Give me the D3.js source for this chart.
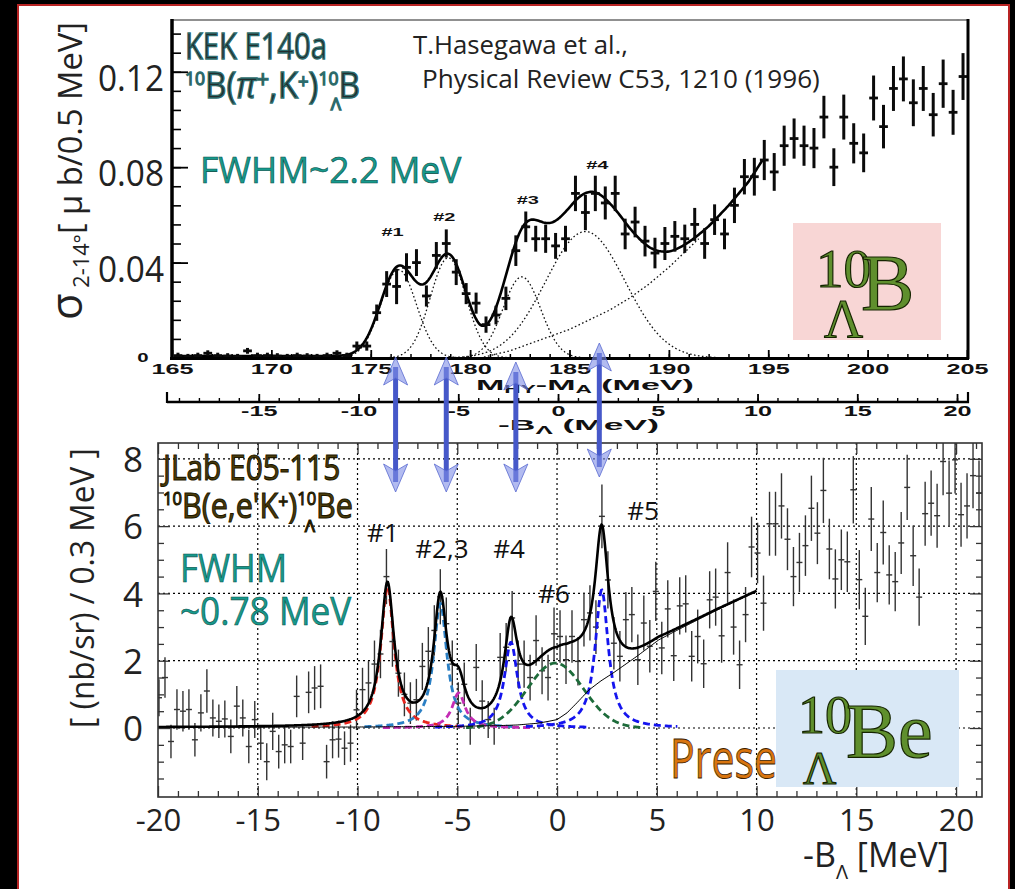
<!DOCTYPE html>
<html>
<head>
<meta charset="utf-8">
<script src="https://cdn.jsdelivr.net/npm/d3@7"></script>
<style>
  html, body { margin: 0; padding: 0; background: #000; }
  svg { display: block; }
</style>
</head>
<body>
<svg width="1015" height="889"></svg>
<script>
(function (d3) {
  'use strict';

  // ---- top panel: KEK E140a, 0.5 MeV bins starting at 165.3 MeV
  const topStart = 165.3, topStep = 0.5;
  const topVals = [
    0.001,0.0005,0.001,0.002,0.001,0.0008,0.0005,0.003,0.001,0.001,0.0008,0.0005,0.001,0.0008,0.0005,0.001,0.002,0.001,
    0.005,0.005,0.019,0.031,0.030,0.038,0.040,0.026,0.043,0.048,0.036,0.027,0.023,0.014,0.018,0.025,0.045,0.055,0.050,
    0.050,0.047,0.050,0.069,0.061,0.069,0.065,0.069,0.052,0.057,0.049,0.044,0.048,0.051,
    0.050,0.056,0.048,0.058,0.052,0.064,0.076,0.076,0.083,0.078,0.089,0.092,0.089,0.088,0.101,0.080,0.101,0.090,0.086,
    0.109,0.097,0.113,0.117,0.107,0.113,0.102,0.115,0.103,0.118
  ];
  const topErrs = [
    0.0008,0.0008,0.0008,0.0008,0.0008,0.0008,0.0008,0.0008,0.0008,0.0008,0.0008,0.0008,0.0008,0.0008,0.0008,0.0008,0.0008,0.0008,
    0.0015,0.0015,0.003,0.005,0.007,0.0055,0.0052,0.004,0.0052,0.0055,0.005,0.004,0.004,0.003,0.0035,0.0045,0.006,0.006,0.005,
    0.0055,0.005,0.005,0.007,0.007,0.007,0.0065,0.007,0.006,0.006,0.006,0.006,0.0065,0.006,
    0.0055,0.0065,0.006,0.006,0.006,0.007,0.007,0.0075,0.008,0.0075,0.008,0.008,0.008,0.008,0.0085,0.0075,0.009,0.008,0.0077,
    0.009,0.0087,0.009,0.009,0.0094,0.009,0.0087,0.0097,0.009,0.0094
  ];
  const topPeakM = [176.4, 178.9, 182.6, 185.8];
  const topPeakAmp = [0.037, 0.042, 0.034, 0.053];
  const topPeakSig = [0.9, 0.9, 0.95, 2.0];
  const topBgM = [180.5,182,183,184,185,186,187,188,189,190,191,192,193,194,194.7];
  const topBgV = [0,0.003,0.006,0.009,0.012,0.016,0.020,0.025,0.031,0.038,0.046,0.054,0.063,0.073,0.082];
  const topLabels = ['#1','#2','#3','#4'];
  const topLabelM = [176.1, 178.7, 182.9, 186.4];
  const topLabelV = [0.0512, 0.0574, 0.0646, 0.0792];
  const topXTicks = [165,170,175,180,185,190,195,200,205];
  const topYTicks = [0.04, 0.08, 0.12];
  const bTicks = [-15,-10,-5,0,5,10,15,20];
  const arrowM = [176.25, 178.8, 182.3, 186.5];

  // ---- bottom panel: JLab E05-115, 0.3 MeV bins starting at -19.95 MeV
  const botStart = -19.95, botStep = 0.3;
  const botVals = [
    0.9,1.5,-0.4,0.55,0.5,0.55,-0.35,0.45,1.1,0.3,0.2,0.27,-0.25,0.65,0.3,-0.55,0.25,-0.45,-1.0,-0.1,
    -0.7,-0.5,-0.55,0.94,-0.45,1.06,1.19,1.24,-1.0,-0.35,-0.33,-0.6,-0.45,
    0.54,1.14,1.34,1.9,2.2,4.5,2.57,1.63,1.0,0.74,0.84,1.83,2.28,2.9,3.9,3.1,1.9,0.74,1.3,0.05,
    1.8,0.8,0.25,0.05,2.1,2.4,3.27,1.9,1.9,1.5,2.6,1.7,1.5,2.8,
    2.72,2.03,2.72,1.98,3.22,3.42,3.0,6.29,4.4,2.52,2.13,3.22,3.37,2.03,3.12,2.43,4.06,2.38,3.54,2.15,
    3.63,3.69,2.13,2.72,1.91,3.81,3.89,2.74,4.62,3.0,1.88,3.37,5.38,5.2,3.71,6.07,6.07,6.6,5.61,4.5,
    4.92,5.42,6.53,5.79,7.06,5.32,4.43,5.0,4.94,7.08,4.41,3.32,6.21,4.62,5.81,4.55,4.35,5.5,7.15,5.12,
    3.89,6.37,6.68,6.31,7.92,6.98,7.97,6.34,6.6,7.5,6.98
  ];
  const botErrs = [
    0.55,0.6,0.5,0.6,0.6,0.6,0.5,0.55,0.65,0.55,0.5,0.55,0.5,0.6,0.55,0.5,0.55,0.5,0.55,0.55,
    0.5,0.55,0.5,0.62,0.5,0.62,0.65,0.65,0.5,0.55,0.55,0.5,0.55,
    0.6,0.65,0.65,0.7,0.72,0.82,0.75,0.7,0.65,0.62,0.62,0.7,0.72,0.75,0.82,0.78,0.7,0.62,0.65,0.55,
    0.7,0.62,0.55,0.55,0.72,0.72,0.8,0.7,0.7,0.68,0.75,0.7,0.68,0.78,
    0.78,0.72,0.78,0.72,0.8,0.82,0.8,0.95,0.85,0.78,0.75,0.82,0.82,0.75,0.82,0.78,0.88,0.78,0.85,0.75,
    0.85,0.85,0.75,0.8,0.72,0.85,0.85,0.8,0.9,0.82,0.72,0.82,0.9,0.9,0.82,0.95,0.95,0.97,0.92,0.88,
    0.88,0.9,0.97,0.92,0.97,0.9,0.88,0.9,0.9,1.0,0.88,0.85,0.95,0.88,0.95,0.88,0.88,0.92,0.97,0.9,
    0.85,0.95,0.97,0.95,1.0,0.97,1.0,0.95,0.97,0.97,0.97
  ];
  const botPeakB = [-8.5, -5.85, -4.93, -2.31, -0.08, 2.24];
  const botPeakAmp = [4.2, 3.7, 1.04, 2.55, 1.93, 4.1];
  const botPeakW = [0.8, 0.8, 0.8, 0.8, 1.4, 0.8];
  const botPeakShape = ['L','L','L','L','G','L'];
  const botPeakColor = ['#e8261e','#2a7fc4','#c42cb4','#1414ee','#1d6b3a','#1414ee'];
  const botBgB = [-20,-10,-5,-3,-2,-1,-0.5,0,0.5,1,1.6,2.2,2.8,4,5.1,6,7,8,9,10];
  const botBgV = [0.02,0.03,0.05,0.07,0.09,0.14,0.19,0.25,0.45,0.75,1.13,1.4,1.63,2.13,2.62,2.9,3.2,3.5,3.78,4.06];
  const botLabels = ['#1','#2,3','#4','#5','#6'];
  const botLabelB = [-8.73, -5.77, -2.4, 4.31, -0.15];
  const botLabelV = [5.53, 5.05, 5.05, 6.18, 3.71];
  const botXTicks = [-20,-15,-10,-5,0,5,10,15,20];
  const botYTicks = [0,2,4,6,8];

  const svg = d3.select('svg');
  const width = +svg.attr('width');
  const height = +svg.attr('height');

  const peak = (x, c, a, w, s) => s === 'G'
    ? a * Math.exp(-0.5 * ((x - c) / w) ** 2)
    : a / (1 + ((x - c) / (w / 2)) ** 2);

  // text placed at origin, then moved and squeezed to a given width
  function fitText(g, x, y, w, build, rot) {
    const t = g.append('text').attr('x', 0).attr('y', 0);
    build(t);
    const s = w ? w / t.node().getBBox().width : 1;
    t.attr('transform', `translate(${x},${y})${rot ? ' rotate(' + rot + ')' : ''} scale(${s},1)`);
    return t;
  }

  // page background + red border
  svg.append('rect').attr('width', width).attr('height', height).attr('fill', '#000');
  svg.append('rect')
    .attr('x', 18).attr('y', 5).attr('width', 991).attr('height', 900)
    .attr('fill', '#fff').attr('stroke', '#b82424').attr('stroke-width', 2);

  // ================= TOP PANEL =================
  const xTop = d3.scaleLinear().domain([165, 205]).range([172, 967]);
  const yTop = d3.scaleLinear().domain([0, 0.1417]).range([358, 20]);
  const top = svg.append('g');

  const dotted = { stroke: '#111', 'stroke-width': 1.3, 'stroke-dasharray': '1.6,2.4', fill: 'none' };
  const applyAttrs = (sel, o) => { Object.keys(o).forEach(k => sel.attr(k, o[k])); return sel; };

  const topBg = d3.scaleLinear().domain(topBgM).range(topBgV).clamp(true);
  const lineTop = d3.line().x(d => xTop(d[0])).y(d => yTop(d[1]));

  topPeakM.forEach((c, i) => {
    const s = topPeakSig[i];
    const pts = d3.range(c - 3.3 * s, c + 3.3 * s, 0.05).map(m => [m, peak(m, c, topPeakAmp[i], s, 'G')]);
    applyAttrs(top.append('path').attr('d', lineTop(pts)), dotted);
  });
  const bgPts = d3.range(180.5, 191.6, 0.1).map(m => [m, topBg(m)]);
  applyAttrs(top.append('path').attr('d', lineTop(bgPts)), dotted);

  const totalTop = d3.range(165.2, 194.71, 0.05).map(m =>
    [m, 0.0008 + topBg(m) + d3.sum(topPeakM, (c, i) => peak(m, c, topPeakAmp[i], topPeakSig[i], 'G'))]);
  top.append('path').attr('d', lineTop(totalTop))
    .attr('fill', 'none').attr('stroke', '#000').attr('stroke-width', 2.6);

  const topPts = top.append('g').attr('stroke', '#0a0a0a');
  topVals.forEach((v, i) => {
    const m = topStart + i * topStep, e = topErrs[i];
    topPts.append('line').attr('x1', xTop(m)).attr('x2', xTop(m))
      .attr('y1', yTop(v - e) + 1).attr('y2', yTop(v + e) - 1).attr('stroke-width', 3);
    topPts.append('line').attr('x1', xTop(m - 0.22)).attr('x2', xTop(m + 0.22))
      .attr('y1', yTop(v)).attr('y2', yTop(v)).attr('stroke-width', 2.8);
  });

  // frame
  top.append('line').attr('x1', 172).attr('x2', 968).attr('y1', 20).attr('y2', 20).attr('stroke', '#222').attr('stroke-width', 1.2);
  top.append('line').attr('x1', 968).attr('x2', 968).attr('y1', 19).attr('y2', 359).attr('stroke', '#000').attr('stroke-width', 3);
  top.append('line').attr('x1', 172).attr('x2', 172).attr('y1', 19).attr('y2', 360).attr('stroke', '#000').attr('stroke-width', 3.5);
  top.append('line').attr('x1', 170).attr('x2', 969).attr('y1', 358.5).attr('y2', 358.5).attr('stroke', '#000').attr('stroke-width', 3);

  const tAxis = (g) => { g.select('.domain').remove(); g.selectAll('line').attr('stroke', '#000'); return g; };

  // y ticks
  top.append('g').attr('transform', 'translate(172,0)')
    .call(d3.axisLeft(yTop).tickValues(d3.range(0.008, 0.14, 0.008)).tickSize(-9).tickFormat(''))
    .call(tAxis).selectAll('line').attr('stroke-width', 1.6);
  const yLab = top.append('g').attr('transform', 'translate(172,0)')
    .call(d3.axisLeft(yTop).tickValues(topYTicks).tickSize(-16).tickPadding(8).tickFormat(d3.format('.2f')))
    .call(tAxis);
  yLab.selectAll('line').attr('stroke-width', 1.8);
  yLab.selectAll('text').attr('font-family', 'Open Sans').attr('font-size', 37)
    .attr('fill', '#222').attr('dy', '0.5em').attr('textLength', 66).attr('lengthAdjust', 'spacingAndGlyphs');
  top.append('text').attr('text-anchor', 'middle')
    .attr('transform', 'translate(143,362) scale(1.7,1)')
    .attr('font-family', 'Liberation Sans').attr('font-weight', 'bold').attr('font-size', 12)
    .attr('fill', '#111').text('0');

  // x ticks
  top.append('g').attr('transform', 'translate(0,358)')
    .call(d3.axisBottom(xTop).tickValues(d3.range(166, 205, 1)).tickSize(-4).tickFormat(''))
    .call(tAxis).selectAll('line').attr('stroke-width', 1.5);
  const xLab = top.append('g').attr('transform', 'translate(0,358)')
    .call(d3.axisBottom(xTop).tickValues(topXTicks).tickSize(-8).tickPadding(6).tickFormat(d3.format('d')))
    .call(tAxis);
  xLab.selectAll('line').attr('stroke-width', 1.8);
  xLab.selectAll('text').attr('font-family', 'Liberation Sans').attr('font-weight', 'bold')
    .attr('font-size', 14).attr('fill', '#111').attr('transform', 'scale(1.8,1)');
  fitText(top, 476, 390, 218, t => {
    t.attr('font-family', 'Liberation Sans').attr('font-weight', 'bold').attr('font-size', 15).attr('fill', '#111');
    t.append('tspan').text('M');
    t.append('tspan').text('HY').attr('font-size', 10).attr('dy', 3);
    t.append('tspan').text('-M').attr('dy', -3);
    t.append('tspan').text('A').attr('font-size', 10).attr('dy', 3);
    t.append('tspan').text(' (MeV)').attr('dy', -3);
  });

  // -B_Lambda axis under the top panel
  const xB = d3.scaleLinear().domain([-19.6, 20.55]).range([167, 968]);
  const bAx = svg.append('g');
  bAx.append('line').attr('x1', 167).attr('x2', 969).attr('y1', 402).attr('y2', 402).attr('stroke', '#000').attr('stroke-width', 2.5);
  bAx.append('g').attr('transform', 'translate(0,402)')
    .call(d3.axisBottom(xB).tickValues(d3.range(-19, 21, 1)).tickSize(-4).tickFormat(''))
    .call(tAxis).selectAll('line').attr('stroke-width', 1.4);
  const bLab = bAx.append('g').attr('transform', 'translate(0,402)')
    .call(d3.axisBottom(xB).tickValues(bTicks).tickSize(-8).tickPadding(4).tickFormat(d => String(d)))
    .call(tAxis);
  bLab.selectAll('line').attr('stroke-width', 1.8);
  bLab.selectAll('text').attr('font-family', 'Liberation Sans').attr('font-weight', 'bold')
    .attr('font-size', 14).attr('fill', '#111').attr('transform', 'scale(1.8,1)');
  [167, 968].forEach(x => bAx.append('line').attr('x1', x).attr('x2', x).attr('y1', 392).attr('y2', 403)
    .attr('stroke', '#000').attr('stroke-width', 2.2));
  fitText(bAx, 498, 430, 161, t => {
    t.attr('font-family', 'Liberation Sans').attr('font-weight', 'bold').attr('font-size', 15).attr('fill', '#111');
    t.append('tspan').text('-B');
    t.append('tspan').text('Λ').attr('font-size', 11).attr('dy', 4);
    t.append('tspan').text('  (MeV)').attr('dy', -4);
  });

  // top panel peak labels
  topLabels.forEach((l, i) => {
    top.append('text').attr('text-anchor', 'middle')
      .attr('transform', `translate(${xTop(topLabelM[i])},${yTop(topLabelV[i])}) scale(2,1)`)
      .attr('font-family', 'Liberation Sans').attr('font-weight', 'bold').attr('font-size', 10)
      .attr('fill', '#111').text(l);
  });

  // top panel annotations
  const kekStyle = t => t.attr('font-family', 'Open Sans').attr('fill', '#222e2e')
    .attr('stroke', '#2d6c6c').attr('stroke-width', 1.3);
  fitText(svg, 185, 59, 142, t => { kekStyle(t); t.attr('font-size', 36).text('KEK E140a'); });
  fitText(svg, 185, 98, 175, t => {
    kekStyle(t); t.attr('font-size', 36);
    t.append('tspan').text('10').attr('font-size', 19).attr('dy', -13);
    t.append('tspan').text('B(').attr('dy', 13);
    t.append('tspan').text('π').attr('font-style', 'italic');
    t.append('tspan').text('+').attr('font-size', 24).attr('dy', -10);
    t.append('tspan').text(',K').attr('dy', 10);
    t.append('tspan').text('+').attr('font-size', 20).attr('dy', -10);
    t.append('tspan').text(')').attr('dy', 10);
    t.append('tspan').text('10').attr('font-size', 19).attr('dy', -13);
    t.append('tspan').text('B').attr('dy', 13);
  });
  svg.append('text').attr('x', 336).attr('y', 110).attr('text-anchor', 'middle')
    .call(kekStyle).attr('font-size', 17).text('Λ');
  fitText(svg, 413, 54, 215, t => t.attr('font-family', 'Open Sans').attr('font-size', 26).attr('fill', '#222').text('T.Hasegawa et al.,'));
  fitText(svg, 422, 88, 398, t => t.attr('font-family', 'Open Sans').attr('font-size', 26).attr('fill', '#222').text('Physical Review C53, 1210 (1996)'));
  const teal = t => t.attr('font-family', 'Open Sans').attr('fill', '#16998c').attr('stroke', '#0b4d46').attr('stroke-width', 0.6);
  fitText(svg, 200, 183, 262, t => { teal(t); t.attr('font-size', 36).text('FWHM~2.2 MeV'); });

  // top y title
  fitText(svg, 82, 320, 298, t => {
    t.attr('font-family', 'Open Sans').attr('fill', '#222').attr('font-size', 33);
    t.append('tspan').text('σ').attr('font-size', 44);
    t.append('tspan').text(' 2-14°').attr('font-size', 22).attr('dy', 7);
    t.append('tspan').text('[ μ b/0.5 MeV]').attr('dy', -7);
  }, -90);

  // isotope box top
  const green = t => t.attr('font-family', 'Liberation Serif').attr('fill', '#5f8f2d')
    .attr('stroke', '#152400').attr('stroke-width', 1.2);
  svg.append('rect').attr('x', 793).attr('y', 223).attr('width', 148).attr('height', 117).attr('fill', '#f8d6d5');
  svg.append('text').attr('x', 816).attr('y', 287).call(green).attr('font-size', 55).text('10');
  svg.append('text').attr('x', 861).attr('y', 310).call(green).attr('font-size', 80).text('B');
  svg.append('text').attr('x', 824).attr('y', 337).call(green).attr('font-size', 54).text('Λ');

  // ================= BOTTOM PANEL =================
  const xBot = d3.scaleLinear().domain([-20, 21.3]).range([158, 982]);
  const yBot = d3.scaleLinear().domain([-2.05, 8.47]).range([797, 443]);
  const bot = svg.append('g');
  svg.append('clipPath').attr('id', 'botClip').append('rect')
    .attr('x', 158).attr('y', 443).attr('width', 824).attr('height', 354);

  const grid = bot.append('g').attr('stroke', '#000').attr('stroke-width', 1.2).attr('stroke-dasharray', '2,3');
  botXTicks.slice(1).forEach(b => grid.append('line').attr('x1', xBot(b)).attr('x2', xBot(b)).attr('y1', 443).attr('y2', 797));
  botYTicks.forEach(v => grid.append('line').attr('x1', 158).attr('x2', 982).attr('y1', yBot(v)).attr('y2', yBot(v)));

  const botBg = d3.scaleLinear().domain(botBgB).range(botBgV).clamp(true);
  const lineBot = d3.line().x(d => xBot(d[0])).y(d => yBot(d[1]));
  const plot = bot.append('g').attr('clip-path', 'url(#botClip)');

  const dataG = plot.append('g').attr('stroke', '#333').attr('stroke-width', 1.4);
  botVals.forEach((v, i) => {
    const b = botStart + i * botStep, e = botErrs[i];
    dataG.append('line').attr('x1', xBot(b)).attr('x2', xBot(b)).attr('y1', yBot(v - e)).attr('y2', yBot(v + e));
    dataG.append('line').attr('x1', xBot(b - botStep / 2)).attr('x2', xBot(b + botStep / 2)).attr('y1', yBot(v)).attr('y2', yBot(v));
  });

  botPeakB.forEach((c, i) => {
    const span = botPeakShape[i] === 'G' ? 3.2 * botPeakW[i] : 3.8;
    const pts = d3.range(c - span, c + span, 0.03).map(b => [b, peak(b, c, botPeakAmp[i], botPeakW[i], botPeakShape[i])]);
    plot.append('path').attr('d', lineBot(pts)).attr('fill', 'none')
      .attr('stroke', botPeakColor[i]).attr('stroke-width', 2.8).attr('stroke-dasharray', '7,4');
  });
  plot.append('path').attr('d', lineBot(d3.range(-20, 10.01, 0.1).map(b => [b, botBg(b)])))
    .attr('fill', 'none').attr('stroke', '#000').attr('stroke-width', 1);
  const totalBot = d3.range(-20, 10.01, 0.03).map(b =>
    [b, botBg(b) + d3.sum(botPeakB, (c, i) => peak(b, c, botPeakAmp[i], botPeakW[i], botPeakShape[i]))]);
  plot.append('path').attr('d', lineBot(totalBot)).attr('fill', 'none')
    .attr('stroke', '#000').attr('stroke-width', 2.6);

  bot.append('rect').attr('x', 158).attr('y', 443).attr('width', 824).attr('height', 354)
    .attr('fill', 'none').attr('stroke', '#333').attr('stroke-width', 1.6);

  const thin = g => { g.select('.domain').remove(); g.selectAll('line').attr('stroke', '#333').attr('stroke-width', 1.3); return g; };
  const minorX = d3.range(-19, 22, 1).filter(b => b % 5 !== 0);
  const minorY = d3.range(-2, 8.5, 0.5).filter(v => v % 2 !== 0);
  bot.append('g').attr('transform', 'translate(0,797)').call(d3.axisBottom(xBot).tickValues(minorX).tickSize(-6).tickFormat('')).call(thin);
  bot.append('g').attr('transform', 'translate(0,443)').call(d3.axisTop(xBot).tickValues(minorX).tickSize(-6).tickFormat('')).call(thin);
  bot.append('g').attr('transform', 'translate(0,443)').call(d3.axisTop(xBot).tickValues(botXTicks).tickSize(-11).tickFormat('')).call(thin);
  bot.append('g').attr('transform', 'translate(158,0)').call(d3.axisLeft(yBot).tickValues(minorY).tickSize(-6).tickFormat('')).call(thin);
  bot.append('g').attr('transform', 'translate(982,0)').call(d3.axisRight(yBot).tickValues(minorY).tickSize(-6).tickFormat('')).call(thin);
  bot.append('g').attr('transform', 'translate(982,0)').call(d3.axisRight(yBot).tickValues(botYTicks).tickSize(-12).tickFormat('')).call(thin);

  const bx = bot.append('g').attr('transform', 'translate(0,797)')
    .call(d3.axisBottom(xBot).tickValues(botXTicks).tickSize(-11).tickPadding(12).tickFormat(d => String(d))).call(thin);
  bx.selectAll('text').attr('font-family', 'Open Sans').attr('font-size', 31).attr('fill', '#222');
  const by = bot.append('g').attr('transform', 'translate(158,0)')
    .call(d3.axisLeft(yBot).tickValues(botYTicks).tickSize(-12).tickPadding(15).tickFormat(d3.format('d'))).call(thin);
  by.selectAll('text').attr('font-family', 'Open Sans').attr('font-size', 35).attr('fill', '#222').attr('dy', '0.36em');

  bot.append('text').attr('x', 803).attr('y', 867).attr('font-family', 'Open Sans')
    .attr('font-size', 34).attr('fill', '#222')
    .call(t => {
      t.append('tspan').text('-B');
      t.append('tspan').text('Λ').attr('font-size', 20).attr('dy', 12);
      t.append('tspan').text(' [MeV]').attr('dy', -12);
    });
  fitText(bot, 94, 728, 280, t => t.attr('font-family', 'Open Sans').attr('font-size', 32)
    .attr('fill', '#222').text('[ (nb/sr) / 0.3 MeV ]'), -90);

  botLabels.forEach((l, i) => {
    bot.append('text').attr('x', xBot(botLabelB[i])).attr('y', yBot(botLabelV[i]))
      .attr('text-anchor', 'middle').attr('font-family', 'Open Sans').attr('font-size', 26)
      .attr('fill', '#111').text(l);
  });

  const olive = t => t.attr('font-family', 'Open Sans').attr('fill', '#4a3c0a')
    .attr('stroke', '#1e1800').attr('stroke-width', 1.1);
  fitText(svg, 163, 480, 180, t => { olive(t); t.attr('font-size', 35).text('JLab E05-115'); });
  fitText(svg, 163, 518, 190, t => {
    olive(t); t.attr('font-size', 35);
    t.append('tspan').text('10').attr('font-size', 19).attr('dy', -13);
    t.append('tspan').text("B(e,e'K").attr('dy', 13);
    t.append('tspan').text('+').attr('font-size', 20).attr('dy', -10);
    t.append('tspan').text(')').attr('dy', 10);
    t.append('tspan').text('10').attr('font-size', 19).attr('dy', -13);
    t.append('tspan').text('Be').attr('dy', 13);
  });
  svg.append('text').attr('x', 310).attr('y', 532).attr('text-anchor', 'middle')
    .call(olive).attr('font-size', 17).text('Λ');
  fitText(svg, 180, 582, 107, t => { teal(t); t.attr('font-size', 39).text('FWHM'); });
  fitText(svg, 180, 625, 172, t => { teal(t); t.attr('font-size', 39).text('~0.78 MeV'); });

  fitText(svg, 670, 778, 107, t => t.attr('font-family', 'Open Sans').attr('font-size', 54)
    .attr('fill', '#d9750f').attr('stroke', '#3b1d00').attr('stroke-width', 0.8).text('Prese'));
  svg.append('rect').attr('x', 776).attr('y', 670).attr('width', 183).attr('height', 117).attr('fill', '#d9e8f6');
  svg.append('text').attr('x', 798).attr('y', 733).call(green).attr('font-size', 54).text('10');
  svg.append('text').attr('x', 846).attr('y', 757).call(green).attr('font-size', 78).text('Be');
  svg.append('text').attr('x', 803).attr('y', 784).call(green).attr('font-size', 46).text('Λ');

  // ================= ARROWS linking the two spectra =================
  const tipTop = [357, 357, 362, 343];
  const tipBot = [492, 492, 492, 477];
  const arrows = svg.append('g');
  arrowM.forEach((m, i) => {
    const x = xTop(m), y1 = tipTop[i], y2 = tipBot[i];
    const hw = 12, hh = 28, notch = 7;
    arrows.append('line').attr('x1', x).attr('x2', x).attr('y1', y1 + 10).attr('y2', y2 - 10)
      .attr('stroke', '#4658c9').attr('stroke-width', 5);
    [[y1, 1], [y2, -1]].forEach(([y, s]) => {
      arrows.append('path')
        .attr('d', `M${x},${y} L${x + hw},${y + s * hh} L${x},${y + s * (hh - notch)} L${x - hw},${y + s * hh} Z`)
        .attr('fill', '#7e8ee6').attr('fill-opacity', 0.6)
        .attr('stroke', '#5a6bd0').attr('stroke-width', 0.8);
    });
  });

}(d3));
</script>
</body>
</html>
